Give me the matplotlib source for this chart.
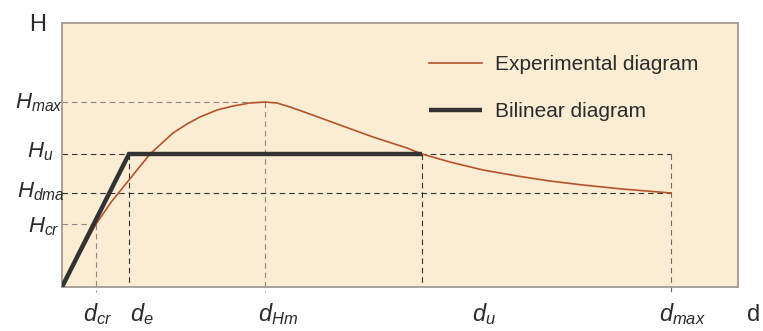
# -*- coding: utf-8 -*-
''' Diagrama fuerza-desplazamiento (H-d)

Curva experimental y diagrama bilineal equivalente, con los valores
característicos marcados con líneas discontinuas.
Se guarda en out.png (763x331 px).
'''
import matplotlib
matplotlib.use('Agg')
from matplotlib import pyplot as plt

# Valores característicos (unidades arbitrarias)
D_CR = 34
D_E = 67
D_HM = 203
D_U = 360
D_MAX = 609

H_CR = 63
H_U = 133
H_DMA = 94
H_MAX = 185

# Curva experimental
exp_d = [0, 34, 50, 67, 88, 111, 125, 138, 155, 171, 188, 203, 215, 228,
         245, 278, 311, 345, 360, 388, 421, 455, 488, 521, 560, 609]
exp_h = [0, 63, 86, 107, 133, 154, 163, 170, 177, 181, 184, 185, 184, 180,
         174, 162, 150, 139, 133, 125, 117, 111, 106, 102, 98, 94]

# Diagrama bilineal
bil_d = [0, D_E, D_U]
bil_h = [0, H_U, H_U]

etiquetas_h = ['$H_{max}$', '$H_u$', '$H_{dma}$', '$H_{cr}$']
etiquetas_d = ['$d_{cr}$', '$d_e$', '$d_{Hm}$', '$d_u$', '$d_{max}$']
leyenda = ['Experimental diagram', 'Bilinear diagram']

FONDO = '#faedd4'
BORDE = '#a39a94'
NARANJA = '#b4532a'
OSCURO = '#333333'
GRIS = '#8c8782'
TEXTO = '#2b2b2b'

plt.rcParams['font.family'] = ['Liberation Sans', 'DejaVu Sans']
plt.rcParams['mathtext.fontset'] = 'custom'
plt.rcParams['mathtext.rm'] = 'Liberation Sans'
plt.rcParams['mathtext.it'] = 'Liberation Sans:italic'


def discontinua(ax, xs, ys, color, bajo_eje=False):
    ''' Dibuja una línea discontinua de referencia '''
    ax.plot(xs, ys, color=color, lw=0.8, dashes=(5, 3.5), zorder=2,
            clip_on=not bajo_eje)


fig = plt.figure(figsize=(7.63, 3.31), dpi=100)
ax = fig.add_axes([62 / 763, 44 / 331, 676 / 763, 264 / 331])
ax.set_facecolor(FONDO)
ax.set_xlim(0, 676)
ax.set_ylim(0, 264)
ax.set_xticks([])
ax.set_yticks([])
for lado in ax.spines.values():
    lado.set_color(BORDE)
    lado.set_linewidth(1.3)

# líneas de referencia horizontales
discontinua(ax, [0, D_HM], [H_MAX, H_MAX], GRIS)
discontinua(ax, [0, D_MAX], [H_U, H_U], OSCURO)
discontinua(ax, [0, D_MAX], [H_DMA, H_DMA], OSCURO)
discontinua(ax, [0, D_CR], [H_CR, H_CR], GRIS)

# líneas de referencia verticales
discontinua(ax, [D_CR, D_CR], [H_CR, -5], GRIS, bajo_eje=True)
discontinua(ax, [D_E, D_E], [H_U, 0], OSCURO)
discontinua(ax, [D_HM, D_HM], [H_MAX, -5], GRIS, bajo_eje=True)
discontinua(ax, [D_U, D_U], [H_U, 0], OSCURO)
discontinua(ax, [D_MAX, D_MAX], [H_U, -5], '#6f6a66', bajo_eje=True)

ax.plot(exp_d, exp_h, color=NARANJA, lw=1.2, zorder=3, label=leyenda[0])
ax.plot(bil_d, bil_h, color=OSCURO, lw=3.2, zorder=4, label=leyenda[1],
        solid_capstyle='butt', solid_joinstyle='miter')

ax.legend(loc='upper left', bbox_to_anchor=(0.543, 0.879), frameon=False,
          borderaxespad=0, borderpad=0, fontsize=15, handlelength=2.55,
          handletextpad=0.62, labelspacing=1.34, labelcolor=TEXTO)

# etiquetas del eje H
valores_h = [H_MAX, H_U, H_DMA, H_CR]
ajuste_h = [(1, -6), (-9, -3), (3, -4), (-2, -8)]
for texto, valor, (dx, dy) in zip(etiquetas_h, valores_h, ajuste_h):
    ax.text(dx, valor + dy, texto, fontsize=16, color=TEXTO, ha='right',
            va='baseline', clip_on=False)

# etiquetas del eje d
valores_d = [D_CR, D_E, D_HM, D_U, D_MAX]
ajuste_d = [-13, 1, -7, 50, -12]
for texto, valor, dx in zip(etiquetas_d, valores_d, ajuste_d):
    ax.text(valor + dx, -34, texto, fontsize=17, color=TEXTO, ha='left',
            va='baseline', clip_on=False)

ax.text(-24, 262, 'H', fontsize=17, color=TEXTO, ha='center', va='center',
        clip_on=False)
ax.text(692, -34, 'd', fontsize=17, color=TEXTO, ha='center', va='baseline',
        clip_on=False)

fig.savefig('out.png', dpi=100, facecolor='white')
